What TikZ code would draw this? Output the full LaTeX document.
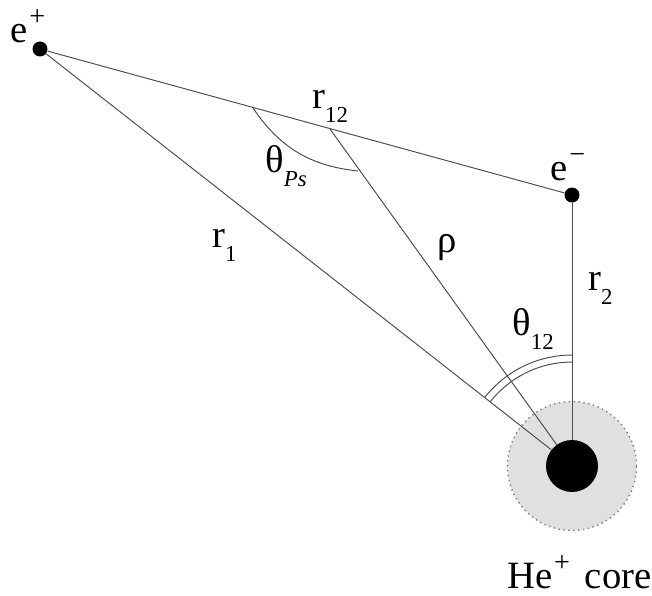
\documentclass[tikz,border=0pt]{standalone}
\usepackage{fontspec}
\setmainfont{Liberation Serif}
\usepackage{tikz}
\usetikzlibrary{calc,positioning}

\newcommand{\lsub}[1]{\raisebox{-8pt}{\fontsize{13}{15}\selectfont #1}}
\newcommand{\lsup}[1]{\hspace{1pt}\raisebox{9.5pt}{\fontsize{16}{18}\selectfont #1}}

\tikzset{
	dot/.style={circle, fill=black, inner sep=0pt, minimum size=0.3cm},
	corebox/.style={circle, fill=black, inner sep=0pt, minimum size=1.04cm},
	halo/.style={circle, fill=black!12, draw=black!50, dotted, line width=0.8pt, inner sep=0pt, minimum size=2.58cm},
	lbl/.style={anchor=base west, inner sep=0pt, font=\fontsize{22}{26}\selectfont},
	wire/.style={draw=black!70, line width=0.55pt}
}

\begin{document}
\begin{tikzpicture}[x=0.02cm, y=-0.02cm]
	\useasboundingbox (0,0) rectangle (652,595);
	% particles
	\node[halo] (halo) at (572,466) {};
	\node[corebox] (core) at (572,466) {};
	\node[dot] (ep) at (40,49) {};
	\node[dot] (em) at (572,195) {};
	\coordinate (mid) at (330,129);
	% distances
	\draw[wire] (ep) -- (em);
	\draw[wire] (ep) -- (core);
	\draw[wire] (em) -- (core);
	\draw[wire] (mid) -- (core);
	% angles
	\coordinate (psa) at (253,108);
	\coordinate (psb) at (358,171);
	\draw[wire] (psa) to[bend right=25] (psb);
	\draw[wire] ([shift={(90:2.22cm)}]core.center) arc[start angle=90, end angle=141.9, radius=2.22cm];
	\draw[wire] ([shift={(90:2.08cm)}]core.center) arc[start angle=90, end angle=141.9, radius=2.08cm];
	% labels
	\node[lbl] (ep-lbl) at (10,42) {e\lsup{+}};
	\node[lbl] (em-lbl) at (550,180) {e\lsup{−}};
	\node[lbl] (r12-lbl) at (312,108) {r\lsub{12}};
	\node[lbl] (ps-lbl) at (265,172) {θ\lsub{\textit{Ps}}};
	\node[lbl] (r1-lbl) at (212,247) {r\lsub{1}};
	\node[lbl] (rho-lbl) at (437,252) {ρ};
	\node[lbl] (r2-lbl) at (588,290) {r\lsub{2}};
	\node[lbl] (t12-lbl) at (512,335) {θ\lsub{12}};
	\node[lbl] (core-lbl) at (507,588) {He\lsup{+}\hspace{3pt} core};
\end{tikzpicture}
\end{document}
